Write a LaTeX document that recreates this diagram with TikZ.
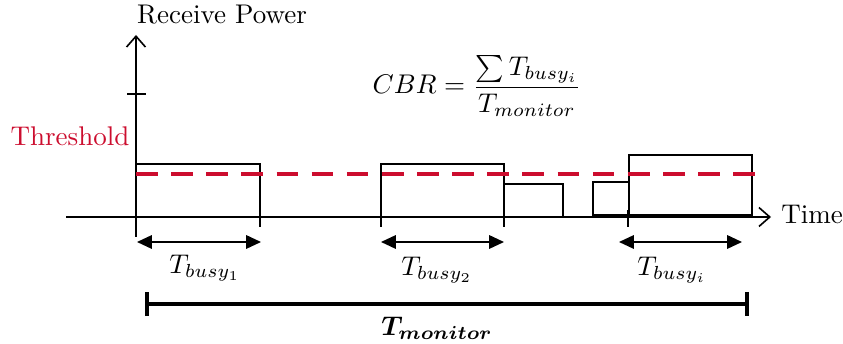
\documentclass[tikz,border=0pt]{standalone}
\usepackage{amsmath,amssymb,bm}
\usepackage{tikz}
\usetikzlibrary{arrows.meta}
\definecolor{thred}{rgb}{0.80,0.05,0.18}
\tikzset{
  axis/.style={semithick, -{Straight Barb[length=4pt,width=7pt]}},
  busy/.style={semithick, draw},
  span/.style={semithick, {Triangle[length=5.5pt,width=5pt]}-{Triangle[length=5.5pt,width=5pt]}},
  tick/.style={semithick},
  thr/.style={thred, line width=1.5pt, dash pattern=on 8pt off 5pt},
  lbl/.style={inner sep=1pt}
}
\begin{document}
\begin{tikzpicture}[x=0.37pt, y=-0.37pt]
\useasboundingbox (0,0) rectangle (843,344);
% axes
\coordinate (o) at (136,217);
\coordinate (ybot) at (136,237);
\coordinate (ytop) at (136,35);
\coordinate (xl) at (66,217);
\coordinate (xr) at (771,217);
\draw[axis] (ybot) -- (ytop);
\draw[axis] (xl) -- (xr);
\draw[tick] (127,94) -- (146,94);
\node[lbl, anchor=base west] (ylab) at (134,24) {Receive Power};
\node[lbl, right] (xlab) at (778,215) {Time};
% threshold
\node[lbl, thred] (thlab) at (70,136) {Threshold};
\coordinate (th0) at (136,174);
\coordinate (th1) at (763,174);
% busy periods
\draw[busy] (136,217) rectangle (260,164);
\draw[busy] (381,217) rectangle (504,164);
\draw[busy] (504,217) rectangle (563,184);
\draw[busy] (593,215) rectangle (629,182);
\draw[busy] (629,215) rectangle (752,155);
\draw[thr] (th0) -- (th1);
\foreach \x in {260,381,504,628}
  \draw[tick] (\x,210) -- (\x,227);
% durations
\coordinate (a1) at (137,242); \coordinate (b1) at (261,242);
\coordinate (a2) at (381,242); \coordinate (b2) at (504,242);
\coordinate (a3) at (619,242); \coordinate (b3) at (742,242);
\draw[span] (a1) -- (b1);
\draw[span] (a2) -- (b2);
\draw[span] (a3) -- (b3);
\node[lbl] (t1) at (205,268) {$T_{busy_1}$};
\node[lbl] (t2) at (437,270) {$T_{busy_2}$};
\node[lbl] (ti) at (672,270) {$T_{busy_i}$};
% monitor window
\coordinate (m0) at (145,304);
\coordinate (m1) at (749,304);
\draw[line width=1.5pt, {Bar[width=9pt]}-{Bar[width=9pt]}] (m0) -- (m1);
\node[lbl] (tm) at (437,328) {$\bm{T_{monitor}}$};
% formula
\node[lbl] (cbr) at (477,86) {$\displaystyle CBR=\frac{\sum T_{busy_i}}{T_{monitor}}$};
\end{tikzpicture}
\end{document}
